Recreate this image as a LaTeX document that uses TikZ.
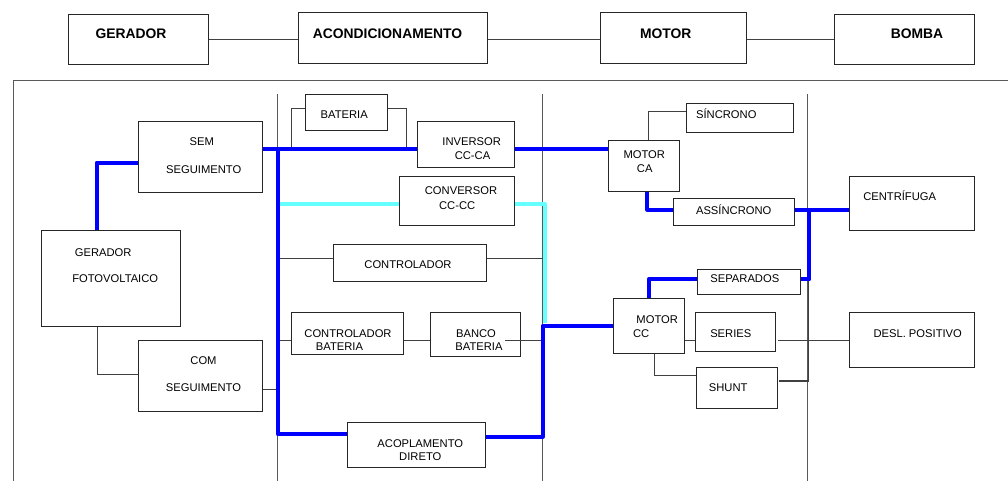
\documentclass[tikz,border=0pt]{standalone}
\usepackage{fontspec}
\setmainfont{Liberation Sans}
\definecolor{cianoclaro}{RGB}{102,255,255}

\begin{document}
\begin{tikzpicture}[x=0.75pt,y=-0.75pt,
    caixa/.style={draw=black!85, line width=0.7pt, inner sep=0pt},
    tam/.style 2 args={minimum width=#1*0.75pt, minimum height=#2*0.75pt},
    rotulo/.style={font=\fontsize{8.4}{10}\selectfont, inner sep=0pt, anchor=base, yshift=-3pt},
    titulo/.style={font=\fontsize{10.4}{12}\selectfont\bfseries, inner sep=0pt, anchor=base, yshift=-3.7pt},
    fio/.style={draw=black!75, line width=0.6pt},
    divisa/.style={draw=black!65, line width=0.6pt},
    azul/.style={draw=blue, line width=3.2pt, line join=round},
    ciano/.style={draw=cianoclaro, line width=3.2pt, line join=round}]
  \useasboundingbox (0,0) rectangle (1008,481);

  \node[caixa,tam={140.4}{50.3}] (ger) at (138.5,39.2) {};
  \node[titulo] (gerT) at (131,34) {GERADOR};
  \node[caixa,tam={189}{50.7}] (acd) at (393.2,37.7) {};
  \node[titulo] (acdT) at (387.5,34) {ACONDICIONAMENTO};
  \node[caixa,tam={145.3}{50.7}] (mot) at (673.4,37.7) {};
  \node[titulo] (motT) at (665.7,34) {MOTOR};
  \node[caixa,tam={140}{50.3}] (bom) at (904.3,39.2) {};
  \node[titulo] (bomT) at (917,34) {BOMBA};
  \draw[fio] (ger.east) -- (ger.east -| acd.west);
  \draw[fio] (acd.east |- ger.east) -- (mot.west |- ger.east);
  \draw[fio] (mot.east |- ger.east) -- (bom.west |- ger.east);

  \draw[divisa] (13.3,481) -- (13.3,80.5) -- (1008,80.5);
  \draw[divisa] (277.3,94.3) -- (277.3,481);
  \draw[divisa] (542.7,94.3) -- (542.7,481);
  \draw[divisa] (807.7,94.3) -- (807.7,481);

  \node[caixa,tam={124.4}{70.6}] (sem) at (200.5,157) {};
  \node[rotulo] (semT1) at (201.7,142) {SEM};
  \node[rotulo] (semT2) at (203.7,170) {SEGUIMENTO};
  \node[caixa,tam={139}{95.6}] (gfv) at (110.8,278.5) {};
  \node[rotulo] (gfvT1) at (103.2,252.3) {GERADOR};
  \node[rotulo] (gfvT2) at (115.2,279) {FOTOVOLTAICO};
  \node[caixa,tam={124.4}{70.7}] (com) at (200.5,375.7) {};
  \node[rotulo] (comT1) at (203.5,360.7) {COM};
  \node[rotulo] (comT2) at (203.5,387.7) {SEGUIMENTO};

  \node[caixa,tam={81.6}{35.6}] (bat) at (346.5,112.5) {};
  \node[rotulo] (batT) at (344.2,114.7) {BATERIA};
  \node[caixa,tam={97.3}{45.6}] (inv) at (465.7,144.5) {};
  \node[rotulo] (invT1) at (471.7,142) {INVERSOR};
  \node[rotulo] (invT2) at (472.5,156) {CC-CA};
  \node[caixa,tam={115.4}{49}] (conv) at (457,201.2) {};
  \node[rotulo] (convT1) at (461,190.7) {CONVERSOR};
  \node[rotulo] (convT2) at (457.2,206) {CC-CC};
  \node[caixa,tam={153}{36.7}] (ctrl) at (409.8,262.7) {};
  \node[rotulo] (ctrlT) at (408,264.7) {CONTROLADOR};
  \node[caixa,tam={112}{42.3}] (cb) at (347.3,333.8) {};
  \node[rotulo] (cbT1) at (348,333.7) {CONTROLADOR};
  \node[rotulo] (cbT2) at (339.5,347) {BATERIA};
  \node[caixa,tam={89.7}{44}] (bb) at (475.8,334.7) {};
  \node[rotulo] (bbT1) at (476,333.7) {BANCO};
  \node[rotulo] (bbT2) at (479,347) {BATERIA};
  \node[caixa,tam={138}{45}] (ad) at (416.7,444.8) {};
  \node[rotulo] (adT1) at (420.3,443) {ACOPLAMENTO};
  \node[rotulo] (adT2) at (420.3,456.3) {DIRETO};

  \node[caixa,tam={71}{50.7}] (mca) at (643.5,165.7) {};
  \node[rotulo] (mcaT1) at (644.3,155) {MOTOR};
  \node[rotulo] (mcaT2) at (644.7,168.7) {CA};
  \node[caixa,tam={106.6}{29.3}] (sinc) at (740,117.7) {};
  \node[rotulo] (sincT) at (726.3,114.7) {SÍNCRONO};
  \node[caixa,tam={121}{27}] (assi) at (733.8,212.2) {};
  \node[rotulo] (assiT) at (733.7,210.7) {ASSÍNCRONO};
  \node[caixa,tam={70.6}{55}] (mcc) at (649,326.2) {};
  \node[rotulo] (mccT1) at (657.2,320) {MOTOR};
  \node[rotulo] (mccT2) at (641.2,334) {CC};
  \node[caixa,tam={102.7}{25}] (sep) at (748.7,282.2) {};
  \node[rotulo] (sepT) at (744.8,279) {SEPARADOS};
  \node[caixa,tam={79.7}{39.3}] (ser) at (735.2,332.3) {};
  \node[rotulo] (serT) at (730.8,333.7) {SERIES};
  \node[caixa,tam={81}{41}] (shu) at (736.8,387.8) {};
  \node[rotulo] (shuT) at (728.2,387.7) {SHUNT};
  \node[caixa,tam={125}{54}] (cen) at (911.5,203.7) {};
  \node[rotulo] (cenT) at (899.7,197) {CENTRÍFUGA};
  \node[caixa,tam={125}{54.6}] (des) at (911.8,340) {};
  \node[rotulo] (desT) at (917.7,333.7) {DESL. POSITIVO};

  \coordinate (g1) at (96.7,162.7);
  \coordinate (g2) at (97.3,374);
  \coordinate (b1) at (278,149.3);
  \coordinate (b2) at (278,434);
  \coordinate (t1) at (291.3,108.3);
  \coordinate (t2) at (406.7,108.3);
  \coordinate (k0) at (280,204);
  \coordinate (k1) at (544.7,204);
  \coordinate (k2) at (544.7,323.3);
  \coordinate (r1) at (278,258.3);
  \coordinate (r2) at (542.7,258.3);
  \coordinate (q1) at (278,340.3);
  \coordinate (q2) at (505,340.3);
  \coordinate (q3) at (542.7,340.3);
  \coordinate (s1) at (278,389);
  \coordinate (d1) at (542.7,436.7);
  \coordinate (d2) at (542.7,326);
  \coordinate (m1) at (648.7,111.7);
  \coordinate (m2) at (647.3,209.7);
  \coordinate (j1) at (809.3,210);
  \coordinate (j2) at (809.3,279.3);
  \coordinate (n1) at (648.7,279.3);
  \coordinate (n2) at (778.3,340);
  \coordinate (n3) at (654.3,375.3);
  \coordinate (n4) at (779.3,381);
  \coordinate (n5) at (808.5,381);

  \draw[fio] (g2 |- gfv.south) -- (g2) -- (g2 -| com.west);
  \draw[fio] (s1 -| com.east) -- (s1);
  \draw[fio] (t1 |- b1) -- (t1) -- (t1 -| bat.west);
  \draw[fio] (t2 -| bat.east) -- (t2) -- (t2 |- b1);
  \draw[fio] (r1) -- (r1 -| ctrl.west);
  \draw[fio] (r2 -| ctrl.east) -- (r2);
  \draw[fio] (q1) -- (q1 -| cb.west);
  \draw[fio] (q1 -| cb.east) -- (q1 -| bb.west);
  \draw[fio] (q2) -- (q3);
  \draw[fio] (m1 |- mca.north) -- (m1) -- (m1 -| sinc.west);
  \draw[fio] (mcc.east |- n2) -- (ser.west |- n2);
  \draw[fio] (n2) -- (n2 -| des.west);
  \draw[fio] (n3 |- mcc.south) -- (n3) -- (n3 -| shu.west);
  \draw[fio,line width=1pt] (n4) -- (n5) -- (n5 |- j2);

  \draw[ciano] (k0) -- (k0 -| conv.west);
  \draw[ciano] (k1 -| conv.east) -- (k1) -- (k2);

  \draw[azul] (g1 |- gfv.north) -- (g1) -- (g1 -| sem.west);
  \draw[azul] (b1 -| sem.east) -- (b1 -| inv.west);
  \draw[azul] (b1) -- (b2) -- (b2 -| ad.west);
  \draw[azul] (b1 -| inv.east) -- (b1 -| mca.west);
  \draw[azul] (d1 -| ad.east) -- (d1) -- (d2) -- (d2 -| mcc.west);
  \draw[azul] (m2 |- mca.south) -- (m2) -- (m2 -| assi.west);
  \draw[azul] (j1 -| assi.east) -- (j1 -| cen.west);
  \draw[azul] (j1) -- (j2) -- (j2 -| sep.east);
  \draw[azul] (n1 |- mcc.north) -- (n1) -- (n1 -| sep.west);
\end{tikzpicture}
\end{document}
